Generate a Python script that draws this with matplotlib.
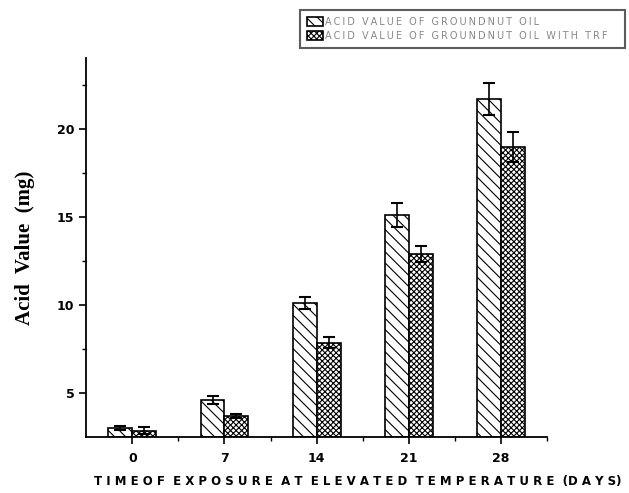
import numpy as np
import matplotlib.pyplot as plt

# acid value vs days at elevated temperature
days = ['0', '7', '14', '21', '28']
acid_oil = [3.0, 4.6, 10.1, 15.1, 21.7]
acid_oil_err = [0.1, 0.2, 0.35, 0.7, 0.9]
acid_trf = [2.85, 3.7, 7.85, 12.9, 18.95]
acid_trf_err = [0.2, 0.1, 0.3, 0.45, 0.85]
labels = ['ACID VALUE OF GROUNDNUT OIL', 'ACID VALUE OF GROUNDNUT OIL WITH TRF']

plt.rcParams['hatch.linewidth'] = 0.8

fig = plt.figure(figsize=(6.29, 4.93), dpi=100)
ax = fig.add_axes([0.137, 0.1136, 0.733, 0.768])

x = np.arange(len(days))
w = 0.26
bottom = 2.5

b1 = ax.bar(x - w / 2, np.array(acid_oil) - bottom, w, bottom=bottom,
            color='white', edgecolor='black', linewidth=1.2, hatch='\\\\\\',
            yerr=acid_oil_err, capsize=4,
            error_kw=dict(elinewidth=1.2, capthick=1.5, ecolor='black'))
b2 = ax.bar(x + w / 2, np.array(acid_trf) - bottom, w, bottom=bottom,
            color='white', edgecolor='black', linewidth=1.2, hatch='xxxxxx',
            yerr=acid_trf_err, capsize=4,
            error_kw=dict(elinewidth=1.2, capthick=1.5, ecolor='black'))

ax.set_xlim(-0.5, 4.5)
ax.set_ylim(2.5, 24)
ax.set_xticks(x)
ax.set_xticklabels(days)
ax.set_xticks(x + 0.5, minor=True)
ax.set_yticks([5, 10, 15, 20])
ax.set_yticks([7.5, 12.5, 17.5, 22.5], minor=True)

for s in ['top', 'right']:
    ax.spines[s].set_visible(False)
for s in ['left', 'bottom']:
    ax.spines[s].set_linewidth(1.3)

ax.tick_params(axis='both', which='major', length=5, width=1.2,
               labelsize=9)
ax.tick_params(axis='both', which='minor', length=3, width=1.0)
ax.tick_params(axis='x', direction='out', pad=6)
for t in ax.get_xticklabels() + ax.get_yticklabels():
    t.set_fontweight('bold')

ax.set_ylabel('Acid  Value  (mg)', fontsize=15, fontweight='bold',
              family='Liberation Serif', labelpad=16)
ax.set_xlabel('T I M E O F  E X P O S U R E  A T  E L E V A T E D  T E M P E R A T U R E  (D A Y S)',
              fontsize=8.5, fontweight='bold')
ax.xaxis.set_label_coords(0.588, -0.1)

# spread the legend letters out a little
spaced = ['\u2009'.join(s) for s in labels]
leg = fig.legend([b1, b2], spaced, loc='upper left',
                 bbox_to_anchor=(0.477, 0.9, 0.517, 0.08), mode='expand',
                 fontsize=7, frameon=True, fancybox=False, edgecolor='#333333',
                 handlelength=1.6, handleheight=1.0, handletextpad=0.2,
                 borderpad=0.75, labelspacing=0.4, borderaxespad=0)
leg.get_frame().set_linewidth(1.5)
for t in leg.get_texts():
    t.set_color('#888888')

fig.savefig('out.png', dpi=100)
